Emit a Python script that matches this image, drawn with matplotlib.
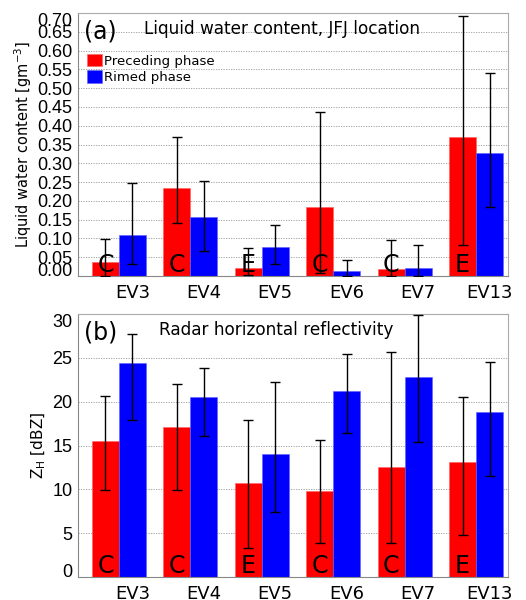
import matplotlib.pyplot as plt
import numpy as np

# Events and the regime letter drawn on each preceding-phase bar
events = ['EV3', 'EV4', 'EV5', 'EV6', 'EV7', 'EV13']
regime = ['C', 'C', 'E', 'C', 'C', 'E']

# Liquid water content [g m-3]: mean, lower and upper error bar ends
lwc_pre = [0.037, 0.235, 0.021, 0.183, 0.018, 0.369]
lwc_pre_lo = [0.000, 0.140, 0.002, 0.009, 0.000, 0.082]
lwc_pre_hi = [0.098, 0.371, 0.074, 0.436, 0.095, 0.691]
lwc_rim = [0.110, 0.156, 0.078, 0.014, 0.022, 0.328]
lwc_rim_lo = [0.031, 0.067, 0.031, 0.000, 0.000, 0.183]
lwc_rim_hi = [0.247, 0.253, 0.136, 0.042, 0.082, 0.540]

# Radar horizontal reflectivity [dBZ]
zh_pre = [15.47, 17.07, 10.75, 9.83, 12.58, 13.15]
zh_pre_lo = [9.95, 9.87, 3.35, 3.89, 3.93, 4.76]
zh_pre_hi = [20.6, 22.07, 17.87, 15.63, 25.72, 20.5]
zh_rim = [24.43, 20.58, 14.02, 21.27, 22.87, 18.86]
zh_rim_lo = [17.95, 16.08, 7.39, 16.43, 15.43, 11.47]
zh_rim_hi = [27.67, 23.9, 22.22, 25.42, 29.88, 24.58]

plt.rcParams['font.family'] = ['DejaVu Sans']

fig = plt.figure(figsize=(5.26, 6.0), dpi=100)
ax_a = fig.add_axes([0.1483, 0.54, 0.8175, 0.4383])
ax_b = fig.add_axes([0.1483, 0.0383, 0.8175, 0.4383])

x = np.arange(1, len(events) + 1)
w = 0.378


def panel(ax, pre, pre_lo, pre_hi, rim, rim_lo, rim_hi, ymax, step, fmt):
    pre = np.array(pre)
    rim = np.array(rim)
    ax.bar(x - w / 2, pre, w, color='#ff0000', edgecolor='#ff6060', lw=0.4,
           label='Preceding phase', zorder=2)
    ax.bar(x + w / 2, rim, w, color='#0000ff', edgecolor='#6060ff', lw=0.4,
           label='Rimed phase', zorder=2)
    ax.errorbar(x - w / 2, pre, yerr=[pre - np.array(pre_lo), np.array(pre_hi) - pre],
                fmt='none', ecolor='black', elinewidth=1.0, capsize=3.5, capthick=1.0, zorder=4)
    ax.errorbar(x + w / 2, rim, yerr=[rim - np.array(rim_lo), np.array(rim_hi) - rim],
                fmt='none', ecolor='black', elinewidth=1.0, capsize=3.5, capthick=1.0, zorder=4)
    for xi, r in zip(x, regime):
        ax.annotate(r, (xi - w / 2, 0), xytext=(0, 3), textcoords='offset points',
                    ha='center', va='baseline', fontsize=17, zorder=5)

    ax.set_xlim(0.426, 6.448)
    ax.set_ylim(0, ymax)
    ax.set_xticks(x + w / 2)
    ax.set_xticklabels(events, fontsize=13)
    yt = np.arange(0, ymax + step / 2, step)
    ax.set_yticks(yt)
    ax.set_yticklabels([fmt.format(v) for v in yt], fontsize=13, family='Liberation Sans')
    labels = ax.get_yticklabels()
    labels[0].set_va('baseline')
    labels[-1].set_va('top')
    ax.tick_params(axis='x', direction='in', length=4, color='#777777', pad=6)
    ax.tick_params(axis='y', direction='in', length=0, pad=4)
    ax.yaxis.grid(True, linestyle=(0, (1.5, 1.5)), color='#999999', lw=0.6, zorder=0)
    ax.set_axisbelow(True)
    for side in ['top', 'right']:
        ax.spines[side].set_color('#aaaaaa')
    for side in ['left', 'bottom']:
        ax.spines[side].set_color('#888888')


panel(ax_a, lwc_pre, lwc_pre_lo, lwc_pre_hi, lwc_rim, lwc_rim_lo, lwc_rim_hi,
      0.70, 0.05, '{:.2f}')
panel(ax_b, zh_pre, zh_pre_lo, zh_pre_hi, zh_rim, zh_rim_lo, zh_rim_hi,
      30, 5, '{:.0f}')

ax_a.set_ylabel('Liquid water content [gm$^{-3}$]', fontsize=10.5, labelpad=2)
ax_b.set_ylabel('Z$_\\mathregular{H}$ [dBZ]', fontsize=11, labelpad=3)

ax_a.text(0.015, 0.975, '(a)', transform=ax_a.transAxes, fontsize=17, va='top')
ax_a.text(0.475, 0.975, 'Liquid water content, JFJ location', transform=ax_a.transAxes,
          fontsize=12.2, va='top', ha='center')
ax_b.text(0.015, 0.975, '(b)', transform=ax_b.transAxes, fontsize=17, va='top')
ax_b.text(0.46, 0.975, 'Radar horizontal reflectivity', transform=ax_b.transAxes,
          fontsize=12.2, va='top', ha='center')

ax_a.legend(loc='upper left', bbox_to_anchor=(0.0, 0.88), frameon=False, fontsize=9.5,
            handlelength=1.1, handleheight=1.1, handletextpad=0.2, borderaxespad=0.3,
            labelspacing=0.2)

fig.savefig('out.png', dpi=100)
